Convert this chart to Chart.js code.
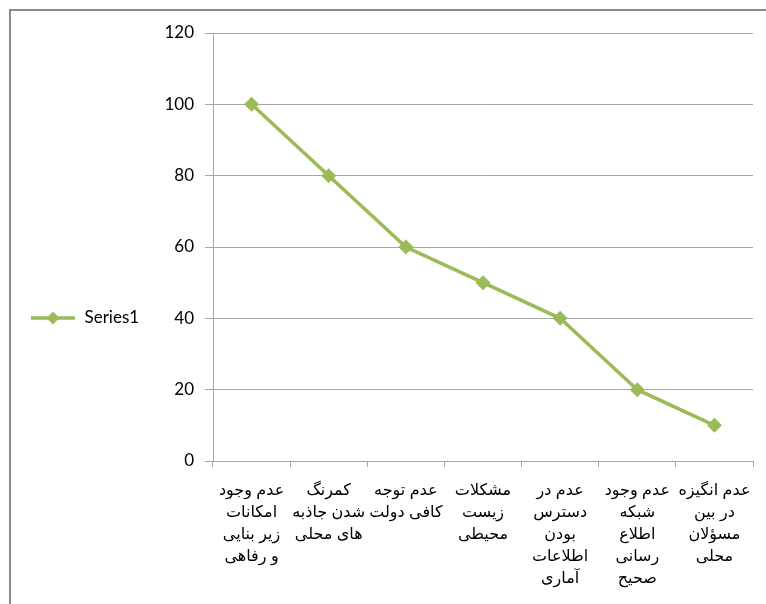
<!DOCTYPE html>
<html><head><meta charset="utf-8">
<script src="https://cdn.jsdelivr.net/npm/chart.js@4.4.1/dist/chart.umd.min.js"></script>
<style>
html,body{margin:0;padding:0;background:#fff;overflow:hidden}
#wrap{position:absolute;left:0;top:0;width:766px;height:604px}
#frame{position:absolute;left:9px;top:9px;width:900px;height:800px;border:2px solid #8a8a8a;box-sizing:border-box}
canvas{position:absolute;left:0;top:0}
</style></head><body>
<div id="wrap"><div id="frame"></div><canvas id="c" width="766" height="604"></canvas></div>
<script>
const categories = [
  ["عدم وجود","امکانات","زیر بنایی","و رفاهی"],
  ["کمرنگ","شدن جاذبه","های محلی"],
  ["عدم توجه","کافی دولت"],
  ["مشکلات","زیست","محیطی"],
  ["عدم در","دسترس","بودن","اطلاعات","آماری"],
  ["عدم وجود","شبکه","اطلاع","رسانی","صحیح"],
  ["عدم انگیزه","در بین","مسؤلان","محلی"]
];
const series1 = [100, 80, 60, 50, 40, 20, 10];
const seriesName = "Series1";
const yTicks = [0, 20, 40, 60, 80, 100, 120];

const green = "#9bbb59";
const grid = "#a6a6a6";

// legend symbol: line with diamond
const sym = document.createElement('canvas');
sym.width = 46; sym.height = 14;
(function(){
  const g = sym.getContext('2d');
  g.strokeStyle = green; g.lineWidth = 3.5;
  g.beginPath(); g.moveTo(1,7); g.lineTo(45,7); g.stroke();
  g.fillStyle = green;
  g.beginPath(); g.moveTo(23,0.5); g.lineTo(29.5,7); g.lineTo(23,13.5); g.lineTo(16.5,7); g.closePath(); g.fill();
})();

let yWidth = 60;

const chart = new Chart(document.getElementById('c'), {
  type: 'line',
  data: {
    labels: categories,
    datasets: [{
      label: seriesName,
      data: series1,
      borderColor: green,
      backgroundColor: green,
      borderWidth: 3.5,
      pointStyle: 'rectRot',
      pointRadius: 7.5,
      pointHoverRadius: 7.5,
      pointBorderWidth: 0,
      tension: 0
    }]
  },
  options: {
    responsive: false,
    animation: false,
    devicePixelRatio: 1,
    layout: { padding: { left: 20, top: 25, right: 12, bottom: 4 } },
    plugins: {
      tooltip: { enabled: false },
      legend: {
        position: 'left',
        labels: {
          usePointStyle: true,
          pointStyleWidth: 46,
          boxHeight: 14,
          color: '#000',
          font: { family: 'Lato, "Open Sans", sans-serif', size: 17 },
          padding: 10,
          generateLabels: (ch) => [{
            text: ch.data.datasets[0].label,
            pointStyle: sym,
            fillStyle: green,
            strokeStyle: green,
            lineWidth: 0,
            datasetIndex: 0,
            hidden: false
          }]
        }
      }
    },
    scales: {
      x: {
        offset: true,
        grid: { offset: true, drawOnChartArea: false, drawTicks: true, tickLength: 6, color: grid },
        border: { color: grid },
        ticks: {
          color: '#000',
          autoSkip: false,
          maxRotation: 0,
          minRotation: 0,
          padding: 13,
          font: { family: 'Arial, "Liberation Sans", "DejaVu Sans", sans-serif', size: 16, lineHeight: 1.375 }
        }
      },
      y: {
        min: 0, max: 120,
        afterBuildTicks: (s) => { s.ticks = yTicks.map(v => ({ value: v })); },
        afterFit: (s) => { s.width = yWidth; },
        grid: { color: grid, tickLength: 8 },
        border: { color: grid },
        ticks: {
          color: '#000',
          padding: 11,
          font: { family: 'Lato, "Open Sans", sans-serif', size: 17 }
        }
      }
    }
  }
});

// align plot area with the reference
(function(){
  const target = { left: 213, top: 33, right: 753, bottom: 461 };
  for (let i = 0; i < 3; i++) {
    const a = chart.chartArea, p = chart.options.layout.padding;
    yWidth += target.left - a.left;
    p.top += target.top - a.top;
    p.right += a.right - target.right;
    p.bottom += a.bottom - target.bottom;
    chart.update();
  }
})();
</script>
</body></html>
